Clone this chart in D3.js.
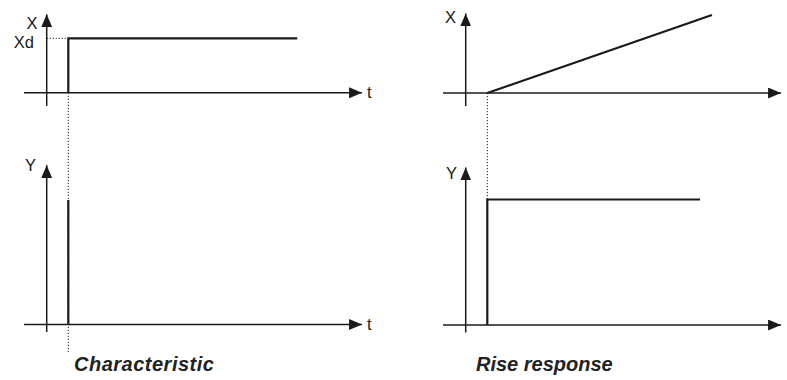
<!DOCTYPE html>
<html><head><meta charset="utf-8">
<script src="https://cdn.jsdelivr.net/npm/d3@7"></script>
<style>html,body{margin:0;padding:0;background:#fff}svg{display:block}</style>
</head><body>
<script>
// ---- data (time units, signal units) ----
const panelNames = ["charX", "charY", "riseX", "riseY"];
const axisLabelsY = ["X", "Y", "X", "Y"];
const timeLabels = ["t", "t", "", ""];
const captions = ["Characteristic", "Rise response"];
const stepTime = 1;
const charXSeries = [[1, 0], [1, 1], [11.6, 1]];          // step input Xd
const charYSeries = [[1, 0], [1, 1]];                      // impulse output
const riseXSeries = [[1, 0], [11.4, 1.43]];                // ramp input
const riseYSeries = [[1, 0], [1, 1], [10.85, 1]];          // step output
const levelLabel = "Xd";
const timeExtent = [-1.05, 14.6];
const topYExtent = [-0.24, 1.44];
const bottomYExtent = [-0.06, 1.27];

const W = 787, H = 380;
const svg = d3.select("body").append("svg").attr("width", W).attr("height", H);
const defs = svg.append("defs");
defs.append("marker").attr("id", "arr").attr("markerUnits", "userSpaceOnUse")
  .attr("viewBox", "0 0 13 11").attr("refX", 13).attr("refY", 5.5)
  .attr("markerWidth", 13).attr("markerHeight", 11).attr("orient", "auto")
  .append("path").attr("d", "M0,0L13,5.5L0,11Z").attr("fill", "#1a1a1a");

const ink = "#1a1a1a";
const font = "'Liberation Sans', Arial, Helvetica, sans-serif";

// scales
const xLeft = d3.scaleLinear().domain([0, 1]).range([46.7, 68.3]);
const xRight = d3.scaleLinear().domain([0, 1]).range([465.7, 487.3]);
const yTop = d3.scaleLinear().domain([0, 1]).range([92.8, 38.3]);
const yTopR = d3.scaleLinear().domain([0, 1]).range([93, 38.5]);
const yBot = d3.scaleLinear().domain([0, 1]).range([324.5, 200]);
const yBotR = d3.scaleLinear().domain([0, 1]).range([325, 199.5]);

const panels = [
  {x: xLeft, y: yTop, data: charXSeries, yExt: topYExtent, label: axisLabelsY[0], t: timeLabels[0], lx: [37.5, 28.5], tipY: 1.44},
  {x: xLeft, y: yBot, data: charYSeries, yExt: bottomYExtent, label: axisLabelsY[1], t: timeLabels[1], lx: [36, 170.5], tipY: 1.28},
  {x: xRight, y: yTopR, data: riseXSeries, yExt: topYExtent, label: axisLabelsY[2], t: timeLabels[2], lx: [456, 22.5], tipY: 1.46},
  {x: xRight, y: yBotR, data: riseYSeries, yExt: bottomYExtent, label: axisLabelsY[3], t: timeLabels[3], lx: [457, 178.5], tipY: 1.255}
];

const line = (x, y) => d3.line().x(d => x(d[0])).y(d => y(d[1]));

// dotted guide lines (drawn first)
const g0 = svg.append("g").attr("stroke", ink).attr("stroke-width", 1).attr("stroke-dasharray", "1.2,1.8").attr("fill", "none");
g0.append("line").attr("x1", xLeft(0)).attr("x2", xLeft(stepTime)).attr("y1", yTop(1)).attr("y2", yTop(1));
g0.append("line").attr("x1", xLeft(stepTime)).attr("x2", xLeft(stepTime)).attr("y1", yTop(0)).attr("y2", 353);
g0.append("line").attr("x1", xRight(stepTime)).attr("x2", xRight(stepTime)).attr("y1", yTopR(0)).attr("y2", yBotR(1));

panels.forEach(p => {
  const g = svg.append("g");
  // horizontal axis
  g.append("line").attr("x1", p.x(timeExtent[0])).attr("x2", p.x(timeExtent[1]))
    .attr("y1", p.y(0)).attr("y2", p.y(0))
    .attr("stroke", ink).attr("stroke-width", 1.5).attr("marker-end", "url(#arr)");
  // vertical axis
  g.append("line").attr("x1", p.x(0)).attr("x2", p.x(0))
    .attr("y1", p.y(p.yExt[0])).attr("y2", p.y(p.tipY))
    .attr("stroke", ink).attr("stroke-width", 1.5).attr("marker-end", "url(#arr)");
  // series
  g.append("path").attr("d", line(p.x, p.y)(p.data))
    .attr("fill", "none").attr("stroke", ink).attr("stroke-width", 2.2).attr("stroke-linejoin", "miter");
  // labels
  g.append("text").attr("x", p.lx[0]).attr("y", p.lx[1]).attr("text-anchor", "end")
    .attr("font-family", font).attr("font-size", 16.5).attr("fill", ink).text(p.label);
  if (p.t) {
    g.append("text").attr("x", p.x(timeExtent[1]) + 5).attr("y", p.y(0) + 5)
      .attr("font-family", font).attr("font-size", 16.5).attr("fill", ink).text(p.t);
  }
});

svg.append("text").attr("x", 34).attr("y", 47.5).attr("text-anchor", "end")
  .attr("font-family", font).attr("font-size", 16.5).attr("fill", ink).text(levelLabel);

svg.append("text").attr("x", 74).attr("y", 371).attr("font-family", font)
  .attr("font-size", 20).attr("font-weight", "bold").attr("font-style", "italic")
  .attr("letter-spacing", 0.5).attr("fill", "#222").text(captions[0]);
svg.append("text").attr("x", 476).attr("y", 371).attr("font-family", font)
  .attr("font-size", 20).attr("font-weight", "bold").attr("font-style", "italic")
  .attr("letter-spacing", 0).attr("fill", "#222").text(captions[1]);
</script>
</body></html>
